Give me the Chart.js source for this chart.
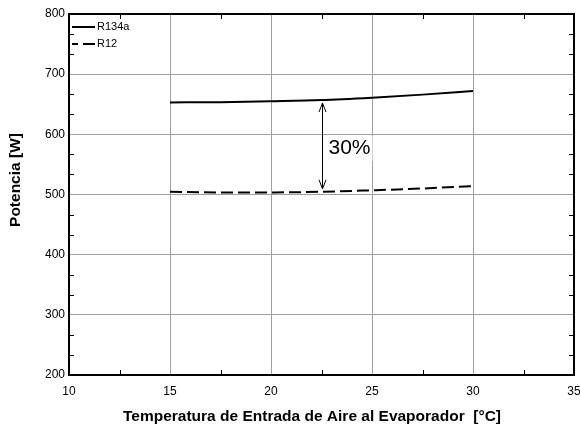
<!DOCTYPE html>
<html>
<head>
<meta charset="utf-8">
<script src="https://cdn.jsdelivr.net/npm/chart.js@4/dist/chart.umd.min.js"></script>
<style>
  html, body { margin: 0; padding: 0; background: #fff; }
  canvas { display: block; }
</style>
</head>
<body>
<canvas id="c" width="580" height="427"></canvas>
<script>
// Air inlet temperature at the evaporator [°C]
const temps = [15, 17.5, 20, 22.5, 25, 27.5, 30];
// Cooling power [W]
const powerR134a = [653, 653.5, 655, 657, 661, 666, 672];
const powerR12 = [504.5, 503.5, 503.5, 504.5, 507, 510, 514];
const seriesNames = ['R134a', 'R12'];

// Axis ranges and ticks
const xTicks = [10, 15, 20, 25, 30, 35];
const yTicks = [200, 300, 400, 500, 600, 700, 800];

// Gap marker between the two curves
const gapAt = 22.5;
const gapLabel = '30%';

const xTitle = 'Temperatura de Entrada de Aire al Evaporador  [°C]';
const yTitle = 'Potencia [W]';

const FONT = "'Liberation Sans', Arial, Helvetica, sans-serif";

function valueAt(xs, ys, x) {
  for (let i = 0; i < xs.length - 1; i++) {
    if (x >= xs[i] && x <= xs[i + 1]) {
      const t = (x - xs[i]) / (xs[i + 1] - xs[i]);
      return ys[i] + t * (ys[i + 1] - ys[i]);
    }
  }
  return ys[ys.length - 1];
}

const decorations = {
  id: 'decorations',
  afterDatasetsDraw(chart) {
    const { ctx, chartArea: a, scales } = chart;
    const xs = scales.x, ys = scales.y;
    ctx.save();

    // frame
    ctx.strokeStyle = '#000';
    ctx.lineWidth = 2;
    ctx.strokeRect(a.left, a.top, a.right - a.left, a.bottom - a.top);

    // inward minor ticks
    ctx.lineWidth = 1;
    ctx.beginPath();
    for (let v = xTicks[0] + 2.5; v < xTicks[xTicks.length - 1]; v += 5) {
      const px = Math.round(xs.getPixelForValue(v)) + 0.5;
      ctx.moveTo(px, a.bottom); ctx.lineTo(px, a.bottom - 5);
      ctx.moveTo(px, a.top); ctx.lineTo(px, a.top + 5);
    }
    for (let k = 0; k < (yTicks.length - 1) * 3; k++) {
      if (k % 3 === 0) continue;
      const v = yTicks[0] + k * 100 / 3;
      const py = Math.round(ys.getPixelForValue(v)) + 0.5;
      ctx.moveTo(a.left, py); ctx.lineTo(a.left + 5, py);
      ctx.moveTo(a.right, py); ctx.lineTo(a.right - 5, py);
    }
    ctx.stroke();

    // legend
    ctx.font = '11px ' + FONT;
    ctx.fillStyle = '#000';
    ctx.textBaseline = 'middle';
    ctx.textAlign = 'left';
    const lx0 = a.left + 3, lx1 = a.left + 26;
    const rows = [a.top + 13, a.top + 30];
    chart.data.datasets.forEach((ds, i) => {
      ctx.lineWidth = 2;
      ctx.setLineDash(ds.borderDash || []);
      ctx.lineDashOffset = ds.borderDash ? 6 : 0;
      ctx.beginPath();
      ctx.moveTo(lx0, rows[i]); ctx.lineTo(lx1, rows[i]);
      ctx.stroke();
      ctx.setLineDash([]);
      ctx.fillText(ds.label, lx1 + 2, rows[i]);
    });

    // double arrow between the curves
    const ax = Math.round(xs.getPixelForValue(gapAt)) + 0.5;
    const yTop = ys.getPixelForValue(valueAt(temps, powerR134a, gapAt)) + 3;
    const yBot = ys.getPixelForValue(valueAt(temps, powerR12, gapAt)) - 3;
    ctx.lineWidth = 1;
    ctx.beginPath();
    ctx.moveTo(ax, yTop); ctx.lineTo(ax, yBot);
    ctx.moveTo(ax - 3.5, yTop + 9); ctx.lineTo(ax, yTop); ctx.lineTo(ax + 3.5, yTop + 9);
    ctx.moveTo(ax - 3.5, yBot - 9); ctx.lineTo(ax, yBot); ctx.lineTo(ax + 3.5, yBot - 9);
    ctx.stroke();

    // gap label on a white box
    ctx.font = '21px ' + FONT;
    const tw = ctx.measureText(gapLabel).width;
    const ty = (yTop + yBot) / 2 + 2;
    const tx = ax + 6;
    ctx.fillStyle = '#fff';
    ctx.fillRect(tx - 1, ty - 12, tw + 3, 25);
    ctx.fillStyle = '#000';
    ctx.fillText(gapLabel, tx, ty);

    // axis titles
    ctx.font = 'bold 15.5px ' + FONT;
    ctx.textAlign = 'center';
    ctx.textBaseline = 'alphabetic';
    ctx.fillText(xTitle, 312, 421);
    ctx.translate(20, 180);
    ctx.rotate(-Math.PI / 2);
    ctx.fillText(yTitle, 0, 0);

    ctx.restore();
  }
};

new Chart(document.getElementById('c'), {
  type: 'line',
  data: {
    datasets: [
      {
        label: seriesNames[0],
        data: temps.map((t, i) => ({ x: t, y: powerR134a[i] })),
        borderColor: '#000',
        borderWidth: 2,
        pointRadius: 0,
        cubicInterpolationMode: 'monotone',
        fill: false
      },
      {
        label: seriesNames[1],
        data: temps.map((t, i) => ({ x: t, y: powerR12[i] })),
        borderColor: '#000',
        borderWidth: 2,
        borderDash: [12, 5],
        pointRadius: 0,
        cubicInterpolationMode: 'monotone',
        fill: false
      }
    ]
  },
  options: {
    responsive: false,
    animation: false,
    devicePixelRatio: 1,
    layout: { padding: { top: 14, right: 6, left: 0, bottom: 0 } },
    plugins: { legend: { display: false }, tooltip: { enabled: false } },
    scales: {
      x: {
        type: 'linear',
        min: xTicks[0],
        max: xTicks[xTicks.length - 1],
        afterBuildTicks(scale) { scale.ticks = xTicks.map(v => ({ value: v })); },
        afterFit(scale) { scale.height = 52; scale.paddingLeft = 0; scale.paddingRight = 0; },
        ticks: { color: '#000', font: { family: FONT, size: 12 }, padding: 9, maxRotation: 0 },
        grid: { color: '#a0a0a0', lineWidth: 1, drawTicks: false },
        border: { display: false }
      },
      y: {
        type: 'linear',
        min: yTicks[0],
        max: yTicks[yTicks.length - 1],
        afterBuildTicks(scale) { scale.ticks = yTicks.map(v => ({ value: v })); },
        afterFit(scale) { scale.width = 69; scale.paddingTop = 0; scale.paddingBottom = 0; },
        ticks: { color: '#000', font: { family: FONT, size: 12 }, padding: 4 },
        grid: { color: '#a0a0a0', lineWidth: 1, drawTicks: false },
        border: { display: false }
      }
    }
  },
  plugins: [decorations]
});
</script>
</body>
</html>
